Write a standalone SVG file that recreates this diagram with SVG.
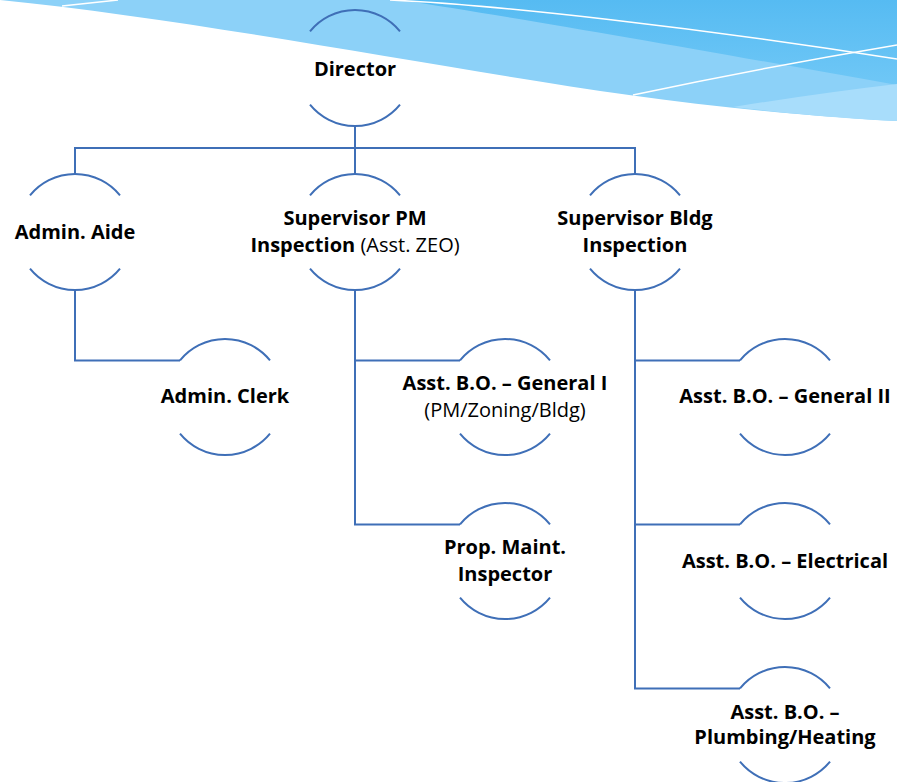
<svg xmlns="http://www.w3.org/2000/svg" xmlns:xlink="http://www.w3.org/1999/xlink" width="897" height="782" viewBox="0 0 897 782">
  <style>
    .t { font-family: "Open Sans", "Liberation Sans", sans-serif; font-weight: bold; font-size: 20px; text-anchor: middle; fill: #000; }
    .n { font-weight: normal; }
    .arc { fill: none; stroke: #3F6FB7; stroke-width: 2; }
    .con { fill: none; stroke: #3F6FB7; stroke-width: 2; }
    .wl { fill: none; stroke: #FFFFFF; stroke-width: 1.5; }
  </style>
  <defs>
    <g id="node">
      <path class="arc" d="M-45,-36.6 A58,58 0 0 1 45,-36.6"/>
      <path class="arc" d="M-45,36.6 A58,58 0 0 0 45,36.6"/>
    </g>
    <linearGradient id="dark" x1="0" y1="0" x2="0" y2="1">
      <stop offset="0" stop-color="#56BBF2"/>
      <stop offset="1" stop-color="#6FC7F6"/>
    </linearGradient>
  </defs>
  <rect width="897" height="782" fill="#FFFFFF"/>
  <g id="background">
    <path d="M0,0 C200,20 450,70 629,95 C720,108 820,117 897,121 L897,0 Z" fill="#8CD1F8"/>
    <path d="M400,0 C520,18 700,50 897,85 L897,0 Z" fill="url(#dark)"/>
    <path d="M733,107 Q820,93 897,84 L897,121 C820,117 780,112 733,107 Z" fill="#A8DDFB"/>
    <path class="wl" d="M390,0 C500,5 700,28 897,59"/>
    <path class="wl" d="M633,95 Q760,68 897,45"/>
    <path class="wl" d="M62,6 L118,0"/>
  </g>
  <g id="connectors">
    <path class="con" d="M355,126 V148"/>
    <path class="con" d="M75,174 V148 H635 V174"/>
    <path class="con" d="M355,148 V174"/>
    <path class="con" d="M75,290 V360.4 H180"/>
    <path class="con" d="M355,290 V524.4 H460"/>
    <path class="con" d="M355,360.4 H460"/>
    <path class="con" d="M635,290 V688.4 H740"/>
    <path class="con" d="M635,360.4 H740"/>
    <path class="con" d="M635,524.4 H740"/>
  </g>
  <g id="director">
    <use xlink:href="#node" x="355" y="68"/>
    <text class="t" x="355" y="75.5">Director</text>
  </g>
  <g id="admin-aide">
    <use xlink:href="#node" x="75" y="232"/>
    <text class="t" x="75" y="239">Admin. Aide</text>
  </g>
  <g id="supervisor-pm">
    <use xlink:href="#node" x="355" y="232"/>
    <text class="t" x="355" y="225">Supervisor PM</text>
    <text class="t" x="355" y="251.5">Inspection <tspan class="n">(Asst. ZEO)</tspan></text>
  </g>
  <g id="supervisor-bldg">
    <use xlink:href="#node" x="635" y="232"/>
    <text class="t" x="635" y="225">Supervisor Bldg</text>
    <text class="t" x="635" y="251.5">Inspection</text>
  </g>
  <g id="admin-clerk">
    <use xlink:href="#node" x="225" y="397"/>
    <text class="t" x="225" y="403">Admin. Clerk</text>
  </g>
  <g id="general-1">
    <use xlink:href="#node" x="505" y="397"/>
    <text class="t" x="505" y="390">Asst. B.O. – General I</text>
    <text class="t n" x="505" y="416.5">(PM/Zoning/Bldg)</text>
  </g>
  <g id="prop-maint">
    <use xlink:href="#node" x="505" y="561"/>
    <text class="t" x="505" y="554">Prop. Maint.</text>
    <text class="t" x="505" y="580.5">Inspector</text>
  </g>
  <g id="general-2">
    <use xlink:href="#node" x="785" y="397"/>
    <text class="t" x="785" y="403">Asst. B.O. – General II</text>
  </g>
  <g id="electrical">
    <use xlink:href="#node" x="785" y="561"/>
    <text class="t" x="785" y="568">Asst. B.O. – Electrical</text>
  </g>
  <g id="plumbing">
    <use xlink:href="#node" x="785" y="725"/>
    <text class="t" x="785" y="719">Asst. B.O. –</text>
    <text class="t" x="785" y="744">Plumbing/Heating</text>
  </g>
</svg>
